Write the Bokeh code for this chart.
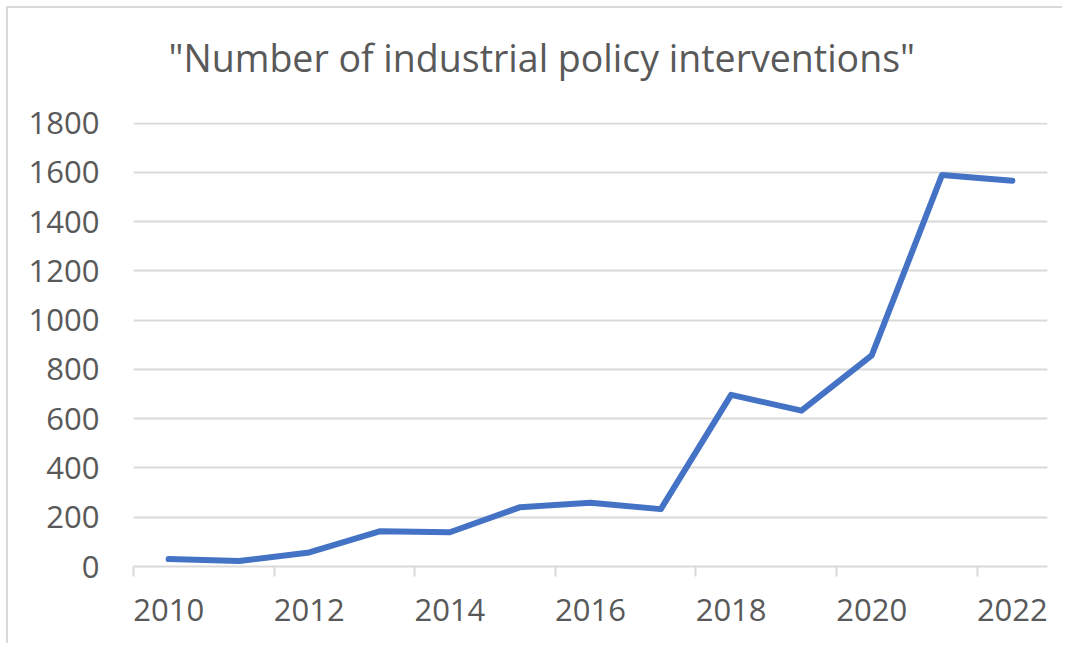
from bokeh.plotting import figure
from bokeh.models import Range1d, FixedTicker, Title
from bokeh.embed import file_html
from bokeh.resources import INLINE

years = [2010, 2011, 2012, 2013, 2014, 2015, 2016, 2017, 2018, 2019, 2020, 2021, 2022]
interventions = [30, 22, 57, 143, 139, 241, 259, 233, 697, 633, 857, 1590, 1566]
label_years = [2010, 2012, 2014, 2016, 2018, 2020, 2022]
boundary_ticks = [2009.5, 2011.5, 2013.5, 2015.5, 2017.5, 2019.5, 2021.5]
y_ticks = [0, 200, 400, 600, 800, 1000, 1200, 1400, 1600, 1800]
title_text = '"Number of industrial policy interventions"'

TXT = "#595959"
GRID = "#d9d9d9"
FONT = "Open Sans"

p = figure(width=1054, height=635, output_backend="svg", toolbar_location=None,
           x_range=Range1d(2009.5, 2022.5), y_range=Range1d(0, 1803),
           min_border_left=125, min_border_right=15, min_border_top=114, min_border_bottom=77,
           margin=(6, 0, 0, 6))
p.frame_width = 914
p.frame_height = 444
p.outline_line_color = None
p.background_fill_color = "white"
p.border_fill_color = "white"
p.styles = {"border-left": "2px solid #d9d9d9", "border-top": "2px solid #d9d9d9"}

p.line(years, interventions, line_color="#4472C4", line_width=6,
       line_join="round", line_cap="round")

# x axis
xa = p.xaxis[0]
xa.ticker = FixedTicker(ticks=label_years, minor_ticks=boundary_ticks)
xa.major_label_overrides = {y: str(y) for y in label_years}
xa.major_tick_line_color = None
xa.major_tick_out = 0
xa.major_tick_in = 0
xa.minor_tick_line_color = GRID
xa.minor_tick_line_width = 2
xa.minor_tick_out = 10
xa.minor_tick_in = 0
xa.axis_line_color = GRID
xa.axis_line_width = 2
xa.major_label_text_font = FONT
xa.major_label_text_font_size = "31px"
xa.major_label_text_color = TXT
xa.major_label_standoff = 22

# y axis
ya = p.yaxis[0]
ya.ticker = FixedTicker(ticks=y_ticks)
ya.axis_line_color = None
ya.major_tick_line_color = None
ya.minor_tick_line_color = None
ya.major_tick_out = 0
ya.major_tick_in = 0
ya.major_label_text_font = FONT
ya.major_label_text_font_size = "31px"
ya.major_label_text_color = TXT
ya.major_label_standoff = 34

p.xgrid.grid_line_color = None
p.ygrid.ticker = FixedTicker(ticks=y_ticks)
p.ygrid.grid_line_color = GRID
p.ygrid.grid_line_width = 2

# spacer between frame and title
p.add_layout(Title(text=" ", text_font_size="1px", standoff=32), "above")

p.title = Title(text=title_text, align="left", offset=35, standoff=10,
                text_font=FONT, text_font_size="37.5px", text_color=TXT,
                text_font_style="normal")

open("out.html", "w").write(file_html(p, INLINE))
